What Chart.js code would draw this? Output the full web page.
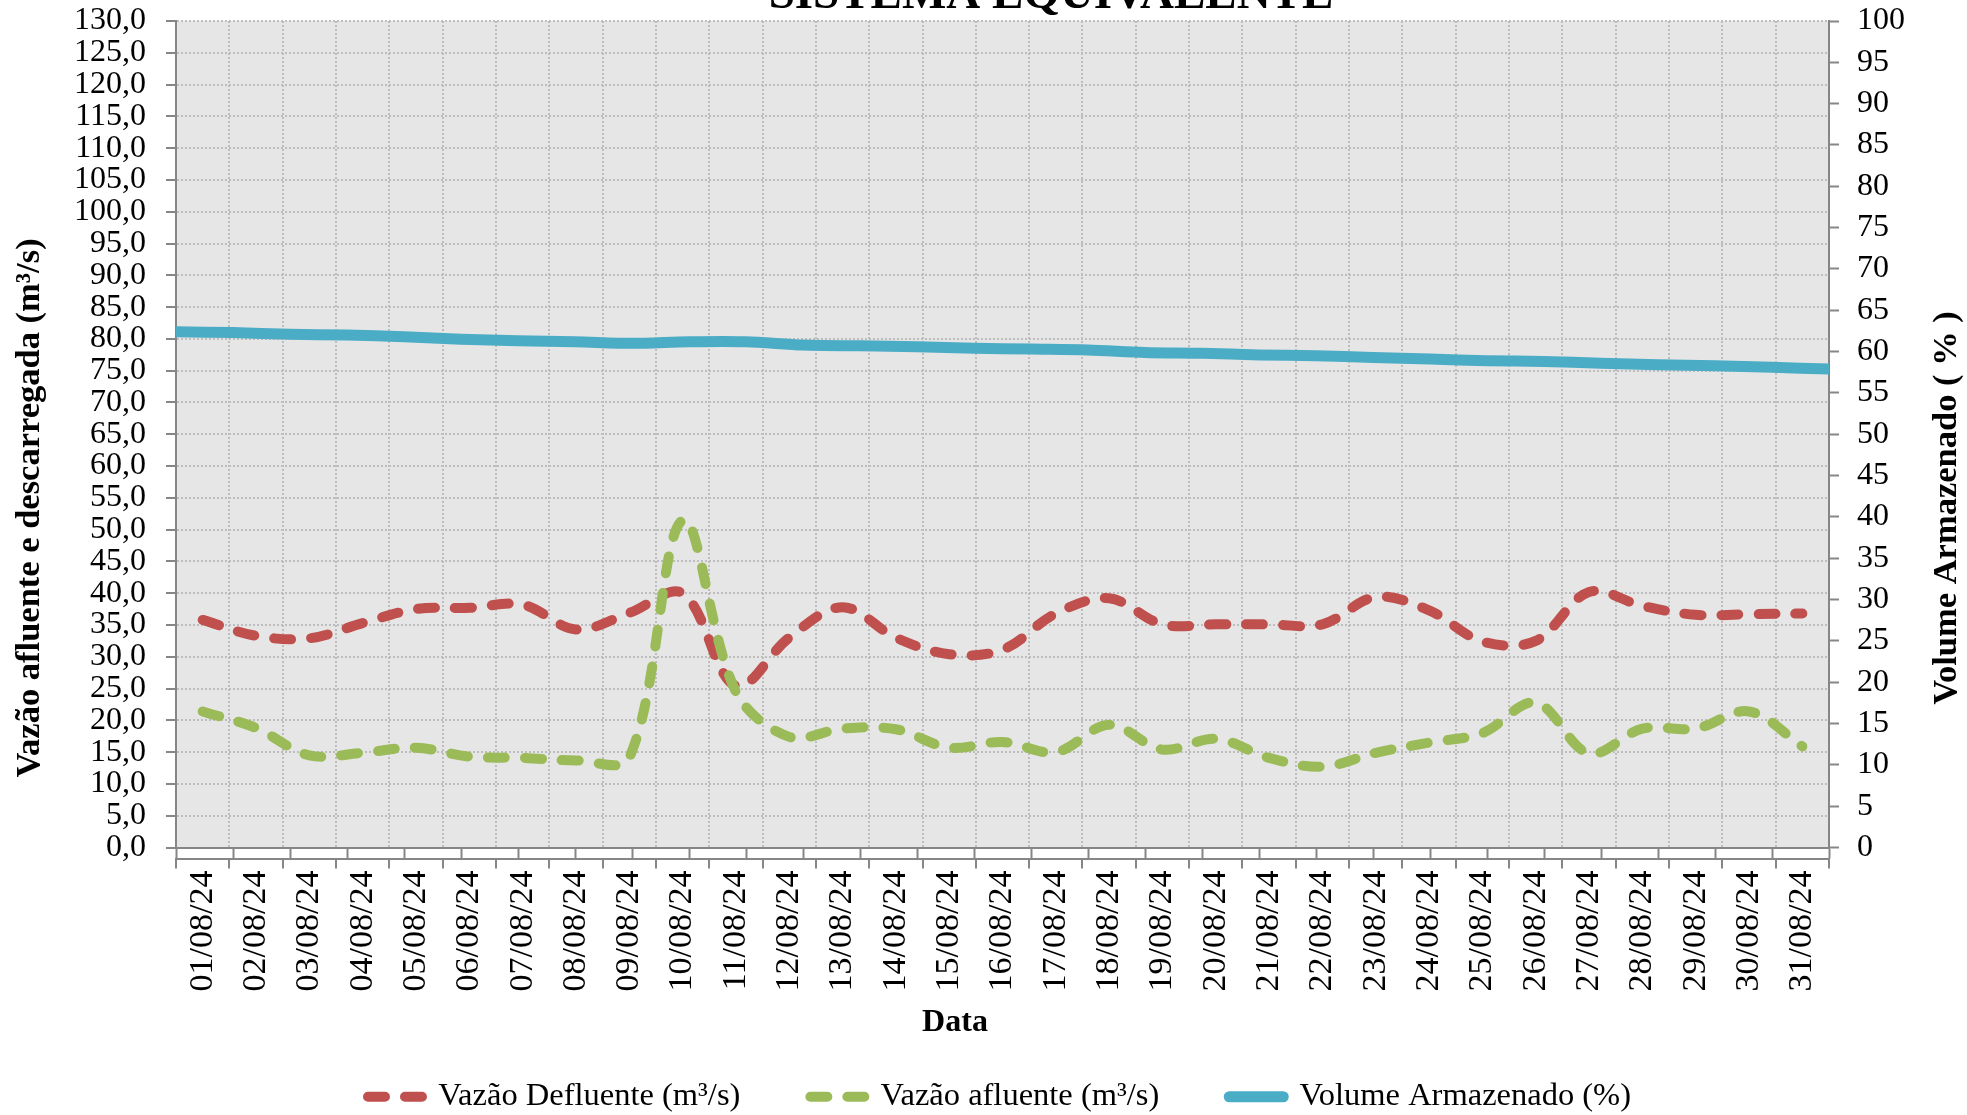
<!DOCTYPE html>
<html>
<head>
<meta charset="utf-8">
<script src="https://cdn.jsdelivr.net/npm/chart.js@4.4.1/dist/chart.umd.min.js"></script>
<style>
  html, body { margin: 0; padding: 0; background: #fff; }
  #wrap { width: 1967px; height: 1115px; position: relative; }
</style>
</head>
<body>
<div id="wrap"><canvas id="chart"></canvas></div>
<script>
const dates = ['01/08/24', '02/08/24', '03/08/24', '04/08/24', '05/08/24', '06/08/24', '07/08/24', '08/08/24',
    '09/08/24', '10/08/24', '11/08/24', '12/08/24', '13/08/24', '14/08/24', '15/08/24', '16/08/24',
    '17/08/24', '18/08/24', '19/08/24', '20/08/24', '21/08/24', '22/08/24', '23/08/24', '24/08/24',
    '25/08/24', '26/08/24', '27/08/24', '28/08/24', '29/08/24', '30/08/24', '31/08/24'];

// secondary category axis used by the volume series (30 points, edge to edge)
const volumeDates = dates.slice(0, 30);

const defluente = [35.8, 33.3, 32.9, 35.3, 37.5, 37.7, 38.2, 34.3, 36.9, 40.0, 25.4, 33.0, 37.8, 33.0, 30.4, 31.1,
    36.8, 39.2, 35.1, 35.1, 35.1, 35.1, 39.4, 37.3, 32.4, 32.5, 40.2, 38.0, 36.6, 36.7, 36.8];

const afluente = [21.4, 18.8, 14.5, 14.9, 15.7, 14.3, 14.1, 13.7, 14.1, 51.5, 24.5, 17.4, 18.7, 18.6, 15.7, 16.6,
    15.0, 19.3, 15.4, 17.1, 14.1, 12.7, 14.9, 16.5, 18.0, 22.8, 14.8, 18.7, 18.7, 21.4, 15.9];

const volume = [62.4, 62.3, 62.1, 62.0, 61.8, 61.5, 61.3, 61.2, 61.0, 61.2, 61.2, 60.8, 60.7, 60.6, 60.4,
    60.3, 60.2, 59.9, 59.8, 59.6, 59.5, 59.3, 59.1, 58.9, 58.8, 58.6, 58.4, 58.3, 58.1, 57.9];

const leftTicks = { min: 0, max: 130, step: 5 };
const rightTicks = { min: 0, max: 100, step: 5 };

const axisGray = '#868686';
const gridGray = '#BDBDBD';
const serif = "'Liberation Serif', 'Times New Roman', serif";

Chart.defaults.font.family = serif;
Chart.defaults.color = '#000';

const decor = {
    id: 'decor',
    afterLayout(chart) {
        // the legend row sits a little right of the canvas centre
        if (chart.legend) {
            chart.legend.left += 16;
            chart.legend.right += 16;
        }
    },
    beforeDraw(chart) {
        const { ctx, chartArea: a } = chart;
        ctx.save();
        ctx.fillStyle = '#fff';
        ctx.fillRect(0, 0, chart.width, chart.height);
        ctx.fillStyle = '#E6E6E6';
        ctx.fillRect(a.left, a.top, a.right - a.left, a.bottom - a.top);
        ctx.restore();
    },
    afterDraw(chart) {
        const { ctx } = chart;
        ctx.save();
        ctx.fillStyle = '#000';
        ctx.textAlign = 'center';

        ctx.font = `bold 47px ${serif}`;
        ctx.textBaseline = 'alphabetic';
        ctx.fillText('SISTEMA EQUIVALENTE', 1051, 8);

        ctx.textBaseline = 'middle';
        ctx.font = `bold 32px ${serif}`;
        ctx.fillText('Data', 955, 1023);

        ctx.font = `bold 34.5px ${serif}`;
        ctx.save();
        ctx.translate(30, 508);
        ctx.rotate(-Math.PI / 2);
        ctx.fillText('Vazão afluente e descarregada (m³/s)', 0, 0);
        ctx.restore();

        ctx.save();
        ctx.translate(1947, 508);
        ctx.rotate(-Math.PI / 2);
        ctx.fillText('Volume Armazenado ( % )', 0, 0);
        ctx.restore();

        ctx.restore();
    }
};

// keep the label gaps without letting them push the plot area down
function fixPad(w) {
    return s => { s.width = w; s.paddingTop = 0; s.paddingBottom = 0; };
}

new Chart(document.getElementById('chart'), {
    type: 'line',
    data: {
        labels: dates,
        datasets: [
            {
                label: 'Vazão Defluente (m³/s)',
                data: defluente,
                borderColor: '#C0504D',
                backgroundColor: '#C0504D',
                borderWidth: 10,
                borderDash: [17, 20],
                borderCapStyle: 'round',
                borderJoinStyle: 'round',
                tension: 0.35,
                pointRadius: 0,
                xAxisID: 'x',
                yAxisID: 'y',
                order: 2
            },
            {
                label: 'Vazão afluente (m³/s)',
                data: afluente,
                borderColor: '#9BBB59',
                backgroundColor: '#9BBB59',
                borderWidth: 10,
                borderDash: [17, 20],
                borderCapStyle: 'round',
                borderJoinStyle: 'round',
                tension: 0.35,
                pointRadius: 0,
                xAxisID: 'x',
                yAxisID: 'y',
                order: 1
            },
            {
                label: 'Volume Armazenado (%)',
                data: volume,
                borderColor: '#4BACC6',
                backgroundColor: '#4BACC6',
                borderWidth: 11,
                borderCapStyle: 'round',
                tension: 0.3,
                pointRadius: 0,
                clip: 0,
                xAxisID: 'x2',
                yAxisID: 'y2',
                order: 0
            }
        ]
    },
    options: {
        responsive: true,
        maintainAspectRatio: false,
        animation: false,
        layout: { padding: { top: 21, left: 0, right: 0, bottom: -8 } },
        plugins: {
            title: { display: false },
            tooltip: { enabled: false },
            legend: {
                position: 'bottom',
                labels: {
                    usePointStyle: true,
                    pointStyle: 'line',
                    pointStyleWidth: 54,
                    padding: 70,
                    font: { size: 32.5 },
                    color: '#000',
                    sort: (a, b) => a.datasetIndex - b.datasetIndex,
                    generateLabels(chart) {
                        const items = Chart.defaults.plugins.legend.labels.generateLabels(chart);
                        items.forEach(it => {
                            const ds = chart.data.datasets[it.datasetIndex];
                            it.lineDash = ds.borderDash || [];
                            it.lineCap = 'round';
                            it.lineWidth = ds.borderWidth;
                            it.strokeStyle = ds.borderColor;
                        });
                        return items;
                    }
                }
            }
        },
        scales: {
            x: {
                type: 'category',
                position: 'bottom',
                weight: 1,
                offset: true,
                afterFit(s) { s.height = 152; },
                grid: {
                    offset: true,
                    color: gridGray,
                    lineWidth: 2,
                    tickLength: 10,
                    tickColor: axisGray,
                    tickWidth: 2,
                    tickBorderDash: []
                },
                border: { display: true, color: axisGray, width: 2, dash: [2, 2] },
                ticks: {
                    autoSkip: false,
                    maxRotation: 90,
                    minRotation: 90,
                    padding: 2,
                    font: { size: 34 },
                    color: '#000'
                }
            },
            x2: {
                type: 'category',
                position: 'bottom',
                weight: 0,
                labels: volumeDates,
                offset: false,
                afterFit(s) { s.height = 11; },
                grid: {
                    drawOnChartArea: false,
                    offset: false,
                    tickLength: 11,
                    color: axisGray,
                    tickColor: axisGray,
                    tickWidth: 2
                },
                border: { display: true, color: axisGray, width: 2 },
                ticks: { display: false, autoSkip: false }
            },
            y: {
                position: 'left',
                min: leftTicks.min,
                max: leftTicks.max,
                afterFit: fixPad(176),
                grid: {
                    color: gridGray,
                    lineWidth: 2,
                    tickLength: 10,
                    tickColor: axisGray,
                    tickWidth: 2,
                    tickBorderDash: []
                },
                border: { display: true, color: axisGray, width: 2, dash: [2, 2] },
                ticks: {
                    stepSize: leftTicks.step,
                    autoSkip: false,
                    padding: 20,
                    font: { size: 32 },
                    color: '#000',
                    callback: v => v.toFixed(1).replace('.', ',')
                }
            },
            y2: {
                position: 'right',
                min: rightTicks.min,
                max: rightTicks.max,
                afterFit: fixPad(138),
                grid: {
                    drawOnChartArea: false,
                    tickLength: 10,
                    tickColor: axisGray,
                    tickWidth: 2
                },
                border: { display: true, color: axisGray, width: 2 },
                ticks: {
                    stepSize: rightTicks.step,
                    autoSkip: false,
                    padding: 18,
                    font: { size: 32 },
                    color: '#000'
                }
            }
        }
    },
    plugins: [decor]
});
</script>
</body>
</html>
